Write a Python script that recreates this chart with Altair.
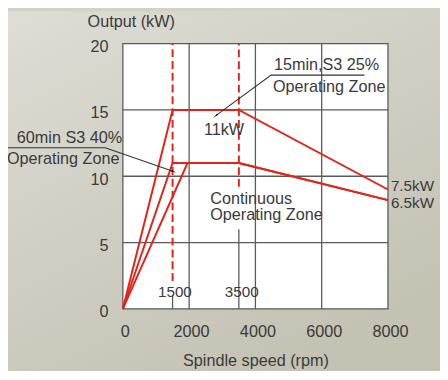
import altair as alt
import pandas as pd

# ---------------- data ----------------
speed_ticks = [0, 2000, 4000, 6000, 8000]
power_ticks = [0, 5, 10, 15, 20]
grid_speeds = [2000, 4000, 6000]
grid_powers = [5, 10, 15]

s3_25_speed = [0, 1500, 3500, 8000]
s3_25_power = [0, 15, 15, 9.0]
s3_40_speed = [0, 1500, 3500, 8000]
s3_40_power = [0, 11, 11, 8.2]
cont_speed = [0, 1950, 3500, 8000]
cont_power = [0, 11, 11, 8.2]

marker_speeds = [1500, 3500]
marker_top = [20, 20]
marker_bottom = [2.1, 9.2]
marker_stub = [1.0, 6.0]

left_texts = ["15min,S3 25%", "Operating Zone", "60min S3 40%", "Operating Zone",
              "Continuous", "Operating Zone"]
left_text_x = [4560, 4530, -3200, -3496, 2637, 2637]
left_text_y = [18.37, 16.74, 12.89, 11.33, 8.30, 7.04]

end_texts = ["7.5kW", "6.5kW"]
end_text_x = [8089, 8089]
end_text_y = [9.25, 7.95]

zone_value_text = ["11kW"]
zone_value_x = [3052]
zone_value_y = [13.48]

center_texts = ["1500", "3500"]
center_text_x = [1570, 3585]
center_text_y = [1.26, 1.26]

leader_group = ["a", "a", "a", "b", "b", "b"]
leader_x = [7289, 4474, 2815, -3704, -533, 1511]
leader_y = [17.63, 17.63, 14.59, 12.15, 12.15, 10.37]
leader_order = [0, 1, 2, 0, 1, 2]
arrow_x = [2815, 1511]
arrow_y = [14.59, 10.37]
arrow_angle = [234, 109]

# ---------------- frames ----------------
curves = pd.DataFrame({
    "series": ["S3 25%"] * 4 + ["S3 40%"] * 4 + ["Continuous"] * 4,
    "speed": s3_25_speed + s3_40_speed + cont_speed,
    "power": s3_25_power + s3_40_power + cont_power,
    "idx": list(range(4)) * 3,
})
vgrid = pd.DataFrame({"speed": grid_speeds})
hgrid = pd.DataFrame({"power": grid_powers})
markers = pd.DataFrame({"speed": marker_speeds, "top": marker_top,
                        "bottom": marker_bottom, "stub": marker_stub,
                        "zero": [0, 0]})
ltext = pd.DataFrame({"t": left_texts, "speed": left_text_x, "power": left_text_y})
etext = pd.DataFrame({"t": end_texts, "speed": end_text_x, "power": end_text_y})
ztext = pd.DataFrame({"t": zone_value_text, "speed": zone_value_x, "power": zone_value_y})
ctext = pd.DataFrame({"t": center_texts, "speed": center_text_x, "power": center_text_y})
leaders = pd.DataFrame({"g": leader_group, "speed": leader_x, "power": leader_y, "o": leader_order})
arrows = pd.DataFrame({"speed": arrow_x, "power": arrow_y, "ang": arrow_angle})
frame = pd.DataFrame({"x0": [0], "x1": [8000], "y0": [0], "y1": [20]})

xs = alt.Scale(domain=[0, 8000], nice=False, zero=False)
ys = alt.Scale(domain=[0, 20], nice=False, zero=False)

RED = "#e3231b"
GRID = "#5a5a5a"
TXT = "#3a3a3a"
FS = 16.5

bg = alt.Chart(frame).mark_rect(
    color=alt.Gradient(gradient="linear", x1=0, y1=0, x2=0.6, y2=1,
                       stops=[alt.GradientStop(color="#deddd6", offset=0),
                              alt.GradientStop(color="#c3c2b3", offset=1)])
).encode(x=alt.value(-117), x2=alt.value(323), y=alt.value(-33), y2=alt.value(339))

plot_bg = alt.Chart(frame).mark_rect(fill="white", stroke=GRID, strokeWidth=1.3).encode(
    x=alt.X("x0:Q", scale=xs,
            axis=alt.Axis(values=speed_ticks, format="d", title="Spindle speed (rpm)",
                          grid=False, domain=False, ticks=False, labelPadding=15,
                          labelFontSize=FS, labelColor=TXT, labelOffset=2, titleFontSize=FS,
                          titleColor=TXT, titleFontWeight="normal", titleY=53,
                          titleBaseline="middle", labelFlush=False, zindex=2)),
    x2="x1:Q",
    y=alt.Y("y0:Q", scale=ys,
            axis=alt.Axis(values=power_ticks, format="d", title="Output (kW)", grid=False,
                          domain=False, ticks=False, labelPadding=15, labelFontSize=FS,
                          labelColor=TXT, labelOffset=3, titleFontSize=FS, titleColor=TXT,
                          titleFontWeight="normal", titleAngle=0, titleX=8, titleY=-23,
                          titleAlign="center", titleBaseline="middle", labelFlush=False,
                          zindex=2)),
    y2="y1:Q",
)

vg = alt.Chart(vgrid).mark_rule(color=GRID, strokeWidth=1.3).encode(
    x=alt.X("speed:Q", scale=xs), y=alt.value(0), y2=alt.value(270))
hg = alt.Chart(hgrid).mark_rule(color=GRID, strokeWidth=1.3).encode(
    y=alt.Y("power:Q", scale=ys), x=alt.value(0), x2=alt.value(270))

stubs = alt.Chart(markers).mark_rule(color=GRID, strokeWidth=1.3).encode(
    x=alt.X("speed:Q", scale=xs), y=alt.Y("zero:Q", scale=ys), y2="stub:Q")
dashes = alt.Chart(markers).mark_rule(color=RED, strokeWidth=2, strokeDash=[8, 4]).encode(
    x=alt.X("speed:Q", scale=xs), y=alt.Y("bottom:Q", scale=ys), y2="top:Q")

lines = alt.Chart(curves).mark_line(color=RED, strokeWidth=2).encode(
    x=alt.X("speed:Q", scale=xs), y=alt.Y("power:Q", scale=ys),
    detail="series:N", order="idx:Q")

lead = alt.Chart(leaders).mark_line(color="#333333", strokeWidth=1.1).encode(
    x=alt.X("speed:Q", scale=xs), y=alt.Y("power:Q", scale=ys),
    detail="g:N", order="o:Q")
heads = alt.Chart(arrows).mark_point(shape="wedge", filled=True, color="#222222",
                                     size=45, opacity=1).encode(
    x=alt.X("speed:Q", scale=xs), y=alt.Y("power:Q", scale=ys),
    angle=alt.Angle("ang:Q", scale=None))

lt = alt.Chart(ltext).mark_text(align="left", baseline="middle", fontSize=FS,
                                color=TXT).encode(
    x=alt.X("speed:Q", scale=xs), y=alt.Y("power:Q", scale=ys), text="t:N")
et = alt.Chart(etext).mark_text(align="left", baseline="middle", fontSize=15.5,
                                color=TXT).encode(
    x=alt.X("speed:Q", scale=xs), y=alt.Y("power:Q", scale=ys), text="t:N")
zt = alt.Chart(ztext).mark_text(align="center", baseline="middle", fontSize=FS,
                                color=TXT).encode(
    x=alt.X("speed:Q", scale=xs), y=alt.Y("power:Q", scale=ys), text="t:N")
ct = alt.Chart(ctext).mark_text(align="center", baseline="middle", fontSize=15.5,
                                color=TXT).encode(
    x=alt.X("speed:Q", scale=xs), y=alt.Y("power:Q", scale=ys), text="t:N")

chart = alt.layer(bg, plot_bg, vg, hg, stubs, dashes, lines, lead, heads,
                  lt, et, zt, ct).properties(
    width=270, height=270, autosize="none",
    padding={"left": 117, "top": 33, "right": 53, "bottom": 60},
    background="#d2d1c6",
).configure(font="Liberation Sans").configure_view(stroke=None)

chart.save("out.html", embed_options={"renderer": "svg", "actions": False})
